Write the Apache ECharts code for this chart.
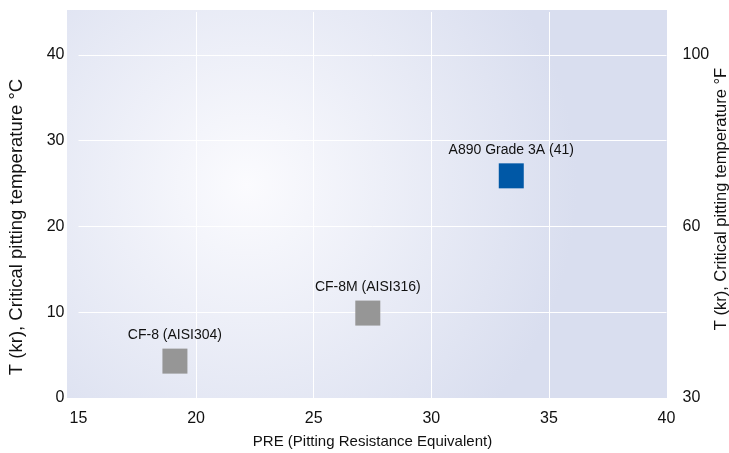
<!DOCTYPE html>
<html><head><meta charset="utf-8">
<script src="https://cdn.jsdelivr.net/npm/echarts@6/dist/echarts.min.js"></script>
<style>html,body{margin:0;padding:0;background:#fff}#c{width:729px;height:453px}</style>
</head><body><div id="c"></div>
<script>
const names = ['CF-8 (AISI304)', 'CF-8M (AISI316)', 'A890 Grade 3A (41)'];
const pre = [19.1, 27.3, 33.4];
const tempC = [4.3, 9.9, 25.9];
const colors = ['#969696', '#969696', '#0058a6'];
const xTicks = [15, 20, 25, 30, 35, 40];
const rightTickPos = [0, 20, 40];
const rightTickLabels = ['30', '60', '100'];

const font = 'Liberation Sans, Arial, Helvetica, sans-serif';
const chart = echarts.init(document.getElementById('c'));
const data = names.map((n, i) => ({
  name: n, value: [pre[i], tempC[i]],
  itemStyle: { color: colors[i], opacity: 1 }
}));
chart.setOption({
  animation: false,
  graphic: [{
    type: 'rect', z: -10, silent: true,
    shape: { x: 67, y: 10, width: 600, height: 388 },
    style: {
      fill: {
        type: 'radial', x: 0.3, y: 0.45, r: 0.85,
        colorStops: [{ offset: 0, color: '#fbfbfe' }, { offset: 1, color: '#d9deef' }]
      }
    }
  }],
  grid: { left: 78.5, right: 62.5, top: 12, bottom: 55, containLabel: false, outerBoundsMode: 'none' },
  xAxis: {
    type: 'value', min: 15, max: 40, interval: 5,
    name: 'PRE (Pitting Resistance Equivalent)', nameLocation: 'middle', nameGap: 36,
    nameTextStyle: { fontFamily: font, fontSize: 15, color: '#111' },
    axisLine: { show: false }, axisTick: { show: false },
    axisLabel: { fontFamily: font, fontSize: 16, color: '#111', margin: 13,
      formatter: v => xTicks.indexOf(v) >= 0 ? String(v) : '' },
    splitLine: { show: true, showMinLine: false, showMaxLine: false, lineStyle: { color: '#ffffff', width: 1 } }
  },
  yAxis: [{
    type: 'value', min: 0, max: 45, interval: 10, position: 'left',
    name: 'T (kr), Critical pitting temperature °C', nameLocation: 'middle', nameGap: 52,
    nameTextStyle: { fontFamily: font, fontSize: 18.5, color: '#111', padding: [0, 44, 0, 0] },
    axisLine: { show: false }, axisTick: { show: false },
    axisLabel: { fontFamily: font, fontSize: 16, color: '#111', margin: 14,
      showMaxLabel: false },
    splitLine: { show: true, showMinLine: false, showMaxLine: false, lineStyle: { color: '#ffffff', width: 1 } }
  }, {
    type: 'value', min: 0, max: 45, interval: 20, position: 'right',
    name: 'T (kr), Critical pitting temperature °F', nameLocation: 'middle', nameGap: 46,
    nameRotate: 90, nameMoveOverlap: false,
    nameTextStyle: { fontFamily: font, fontSize: 16.5, color: '#111', padding: [0, 0, 0, 12] },
    axisLine: { show: false }, axisTick: { show: false },
    axisLabel: { fontFamily: font, fontSize: 16, color: '#111', margin: 16,
      showMaxLabel: false,
      formatter: v => { const k = rightTickPos.indexOf(v); return k >= 0 ? rightTickLabels[k] : ''; } },
    splitLine: { show: false }
  }],
  series: [{
    type: 'scatter', symbol: 'rect', symbolSize: 25, data,
    label: { show: true, position: 'top', distance: 6, formatter: p => p.name,
      fontFamily: font, fontSize: 14, color: '#111' }
  }]
});
</script></body></html>
